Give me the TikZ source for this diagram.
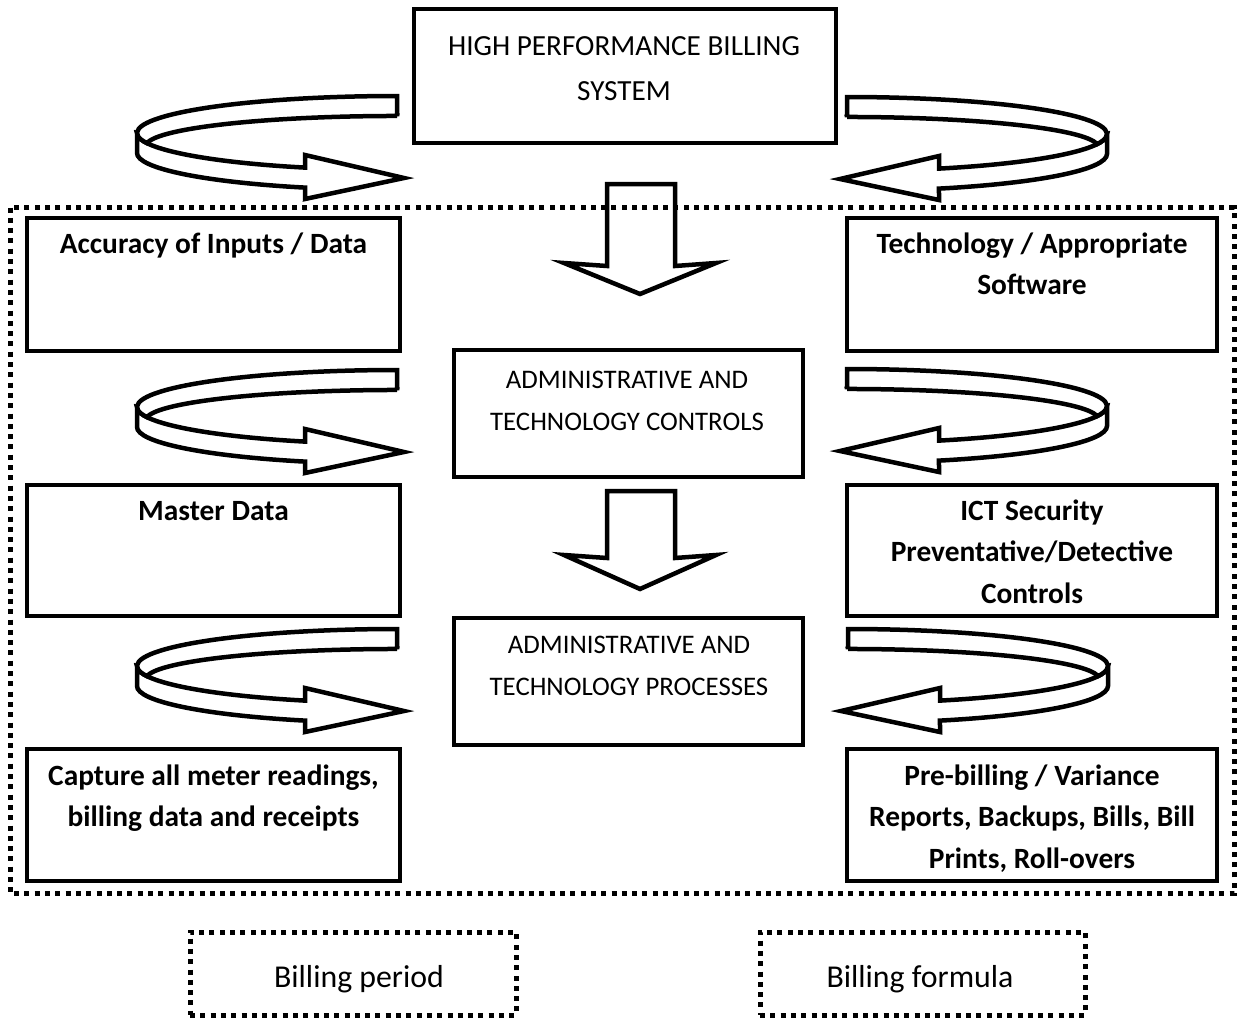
\documentclass[tikz,border=0pt]{standalone}
\usepackage{fontspec}
\setmainfont{Carlito}
\begin{document}
\begin{tikzpicture}[x=1pt,y=1pt,
  box/.style={draw, line width=4.5pt, anchor=north west, inner sep=0pt, outer sep=0pt},
  dotbox/.style={draw, line width=5pt, dash pattern=on 5pt off 5.3pt, anchor=north west, inner sep=0pt, outer sep=0pt},
  dotline/.style={line width=5pt, dash pattern=on 5pt off 5.3pt},
  ribbon/.style={draw, fill=white, line width=4.5pt, line join=miter},
  downarr/.style={draw, line width=4.5pt, line join=miter},
  boldtxt/.style={font=\fontsize{29.4}{41.5}\selectfont\bfseries, align=center, inner sep=0pt, anchor=base},
  titletxt/.style={font=\fontsize{29.2}{45}\selectfont, align=center, inner sep=0pt, anchor=base},
  midtxt/.style={font=\fontsize{26.8}{42}\selectfont, align=center, inner sep=0pt, anchor=base},
  plaintxt/.style={font=\fontsize{31.8}{35}\selectfont, inner sep=0pt, anchor=base},
  curvarr/.pic={
    \draw[ribbon] (-260,-37) -- (-260,-57)
      arc[start angle=180, end angle=249.28, x radius=260, y radius=37]
      -- (-92,-103) -- (7,-82) -- (-92,-59) -- (-92,-71.6)
      arc[start angle=249.28, end angle=180, x radius=260, y radius=37] -- cycle;
    \draw[ribbon] (0,-20) -- (0,0)
      arc[start angle=90, end angle=195.95, x radius=260, y radius=37]
      arc[start angle=174.64, end angle=90, x radius=251.1, y radius=30] -- cycle;
  }
]
\useasboundingbox (0,0) rectangle (1237,-1018);

% boxes
\node[box, minimum width=422pt, minimum height=134pt] (top) at (414,-9) {};
\node[box, minimum width=373pt, minimum height=133pt] (l1) at (27,-218) {};
\node[box, minimum width=370pt, minimum height=133pt] (r1) at (847,-218) {};
\node[box, minimum width=349pt, minimum height=127pt] (m2) at (454,-350) {};
\node[box, minimum width=373pt, minimum height=131pt] (l2) at (27,-485) {};
\node[box, minimum width=370pt, minimum height=131pt] (r2) at (847,-485) {};
\node[box, minimum width=349pt, minimum height=127pt] (m3) at (454,-618) {};
\node[box, minimum width=373pt, minimum height=132pt] (l3) at (27,-749) {};
\node[box, minimum width=370pt, minimum height=132pt] (r3) at (847,-749) {};

% texts (anchor = baseline of last line)
\node[titletxt] (topt) at (624,-100) {HIGH PERFORMANCE BILLING\\SYSTEM};
\node[boldtxt] (l1t) at (213.5,-253) {Accuracy of Inputs / Data};
\node[boldtxt] (r1t) at (1032,-294.5) {Technology / Appropriate\\Software};
\node[midtxt] (m2t) at (627,-430) {ADMINISTRATIVE AND\\TECHNOLOGY CONTROLS};
\node[boldtxt] (l2t) at (213.5,-520) {Master Data};
\node[boldtxt] (r2t) at (1032,-603) {ICT Security\\Preventative/Detective\\Controls};
\node[midtxt] (m3t) at (629,-695) {ADMINISTRATIVE AND\\TECHNOLOGY PROCESSES};
\node[boldtxt] (l3t) at (213.5,-826.5) {Capture all meter readings,\\billing data and receipts};
\node[boldtxt] (r3t) at (1032,-868) {Pre-billing / Variance\\Reports, Backups, Bills, Bill\\Prints, Roll-overs};

% dotted frame
\draw[dotline] (10,-207.5) rectangle (1234,-893.5);

% bottom dotted boxes
\node[dotbox, minimum width=326pt, minimum height=83pt] (b1) at (190,-932) {};
\node[dotbox, minimum width=325pt, minimum height=83pt] (b2) at (760,-932) {};
\node[plaintxt] (b1t) at (359,-987) {Billing period};
\node[plaintxt] (b2t) at (920,-987) {Billing formula};

% down arrows
\draw[downarr] (607,-184) -- (675,-184) -- (675,-266) -- (716,-263) -- (640,-294) -- (564,-263) -- (607,-266) -- cycle;
\draw[downarr] (607,-491) -- (675,-491) -- (675,-558) -- (716,-555) -- (640,-589) -- (564,-555) -- (607,-558) -- cycle;

% curved arrows
\pic at (397,-96) {curvarr};
\pic at (397,-370) {curvarr};
\pic at (397,-629) {curvarr};
\pic[xscale=-1] at (847,-97) {curvarr};
\pic[xscale=-1] at (847,-369) {curvarr};
\pic[xscale=-1] at (848,-629) {curvarr};
\end{tikzpicture}
\end{document}
